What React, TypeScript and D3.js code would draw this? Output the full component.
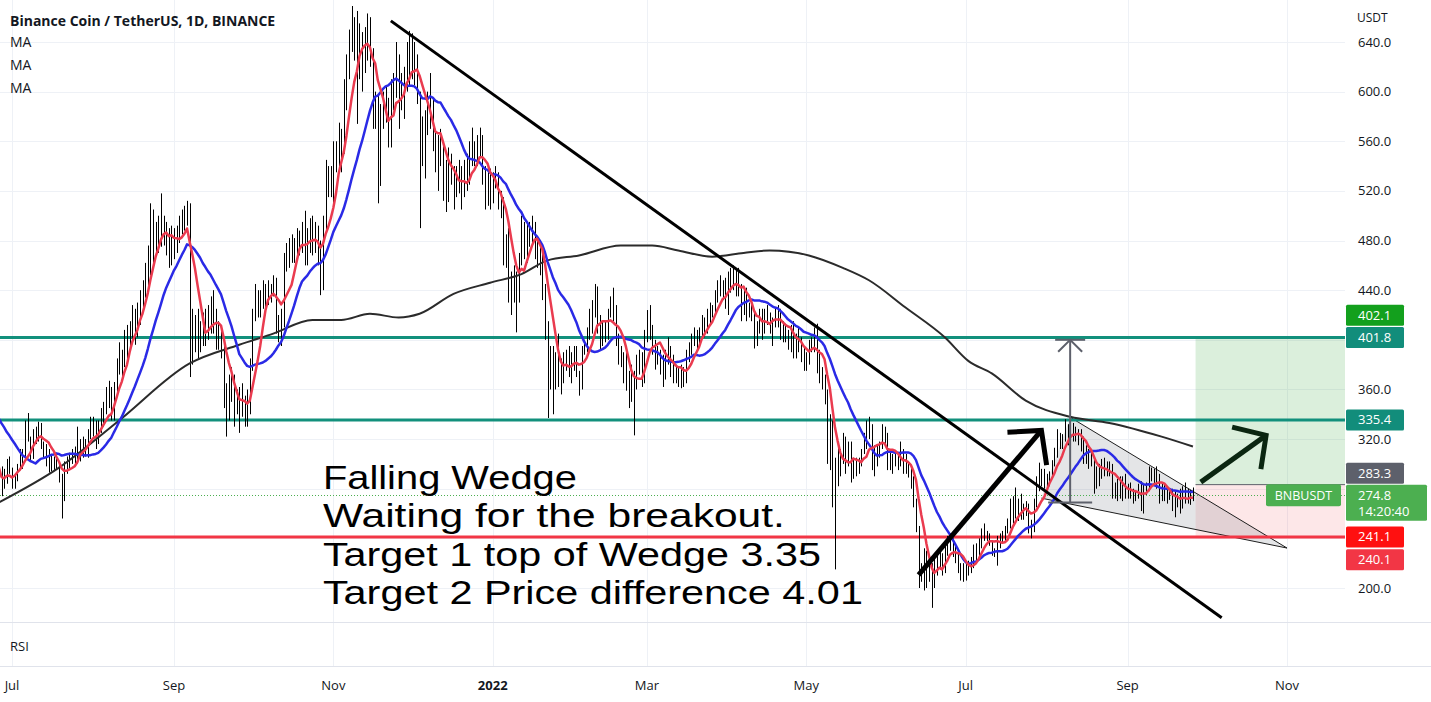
import React from "react";
import * as d3 from "d3";

// ---------------- DATA ----------------
const startDate = "2021-06-06"; // first daily bar (bars left of the pane are clipped)

// daily closes, Jun 6 2021 .. Sep 26 2022 (one line per month)
const closes = [
  392,365,350,372,358,355,350,365,372,368,352,358,340,342,345,292,284,300,298,280,279,293,285,298,301,
  288,289,298,308,308,326,322,311,325,322,332,318,312,312,300,298,300,300,290,275,298,301,305,308,310,312,316,313,315,325,333,
  330,320,330,340,342,351,358,340,362,380,391,381,405,400,410,420,415,425,435,445,455,470,495,480,490,480,495,485,480,475,485,
  475,478,490,495,500,505,410,405,400,395,405,410,415,420,425,415,405,405,395,350,340,360,365,345,355,350,345,335,345,380,
  420,430,425,430,440,440,440,440,445,410,410,415,460,470,470,475,475,480,480,485,470,475,490,480,485,470,450,490,530,530,530,
  545,550,560,555,590,620,640,650,640,620,640,630,640,650,630,580,590,545,580,590,585,565,600,600,615,590,605,610,625,625,
  640,620,600,570,560,575,580,590,560,540,560,560,525,530,540,530,520,530,525,520,530,530,545,560,550,555,560,530,515,525,512,
  530,530,512,505,470,480,440,440,445,440,465,490,470,490,485,490,475,470,460,440,410,380,390,380,375,370,375,385,385,380,380,
  390,375,365,390,395,405,420,425,430,415,400,410,405,420,430,420,400,390,385,370,365,365,355,365,380,380,370,405,
  415,410,395,390,390,380,375,385,390,380,375,370,370,375,370,385,395,400,405,400,405,415,410,420,425,425,435,440,445,440,430,
  450,445,455,450,440,425,435,420,425,420,400,410,420,410,420,420,410,415,420,420,410,405,405,400,410,390,395,400,390,380,
  385,395,400,405,390,375,370,355,310,325,290,280,300,305,320,300,315,290,300,295,300,310,320,325,330,310,300,310,315,330,320,
  300,305,300,305,300,310,300,300,295,285,270,250,205,210,225,205,215,205,220,220,225,215,230,240,238,230,225,218,212,215,
  215,218,220,230,230,235,245,245,242,237,230,228,238,240,240,245,250,265,265,265,268,260,262,265,250,250,270,280,285,290,285,
  288,290,300,310,325,315,320,330,320,330,325,325,320,315,310,305,300,305,290,285,295,300,300,295,295,280,280,278,285,280,278,
  280,275,273,275,280,270,280,280,292,293,290,285,275,280,275,275,276,265,275,270,268,278,275,272,272,274.8,
];

const highs = [
  400,395,368,378,375,362,358,368,378,375,370,365,362,350,348,348,302,310,310,302,290,298,296,304,306,
  297,292,300,312,312,335,341,322,328,330,334,333,318,316,312,308,306,309,302,292,302,306,309,312,314,330,320,322,320,328,338,
  338,335,335,345,350,362,367,362,366,385,398,392,408,412,415,428,425,430,440,448,462,476,510,505,495,500,518,500,495,490,492,
  490,492,500,505,508,512,510,425,420,425,415,422,425,428,435,440,425,415,410,400,365,372,378,372,360,362,365,355,360,385,
  425,445,440,440,448,445,448,445,452,450,420,425,470,478,482,485,482,490,488,495,504,490,498,500,495,492,480,500,545,540,540,
  560,560,575,570,610,630,650,669,660,665,655,648,652,663,660,635,600,598,590,600,605,595,610,615,640,630,615,620,640,649,
  647,640,630,600,580,585,600,615,595,570,565,570,560,545,555,550,540,540,545,540,545,550,560,571,560,565,571,565,540,535,538,
  535,540,535,520,515,485,490,455,460,455,470,500,495,495,495,500,495,480,480,475,445,415,395,395,390,405,385,390,392,395,390,
  395,395,375,395,400,410,425,432,445,443,420,415,415,425,435,442,428,405,395,390,392,375,380,375,388,392,390,408,
  424,428,412,400,395,392,388,392,402,395,388,380,378,380,378,392,398,405,410,408,410,420,418,425,430,428,440,448,452,448,450,
  455,458,460,457,458,445,440,442,430,428,422,415,425,425,425,428,422,418,425,428,425,415,412,408,412,415,405,410,402,395,
  390,400,402,410,413,392,378,372,360,340,335,305,318,312,325,322,318,318,305,305,305,312,325,335,338,332,315,315,318,332,330,
  325,310,308,310,308,318,312,308,302,298,290,272,250,220,232,230,222,220,224,228,232,228,235,242,244,240,235,228,220,220,
  222,222,225,235,236,240,248,252,246,244,238,232,242,244,246,250,256,272,274,281,272,276,268,270,268,255,272,290,301,296,296,
  292,294,303,313,328,325,324,336,332,334,333,330,328,328,322,315,312,310,306,298,300,304,305,302,302,300,285,288,290,290,292,
  284,285,280,278,284,286,283,285,298,297,296,298,292,284,284,280,280,280,278,276,280,282,285,280,279,281,
];

const lows = [
  385,355,330,345,350,345,335,345,360,360,345,350,335,330,320,285,255,278,290,276,270,274,280,284,292,
  280,280,286,295,296,303,318,303,304,316,318,312,305,298,293,294,295,296,285,256,270,292,295,300,300,300,302,305,306,305,320,
  322,312,316,325,330,340,345,335,335,355,372,370,378,385,392,398,396,402,412,426,434,440,452,462,468,470,475,476,468,458,460,
  465,470,478,485,488,492,370,380,390,385,390,395,395,400,405,405,392,392,385,345,322,335,350,330,340,325,338,330,330,340,
  375,415,418,418,425,425,428,430,435,405,398,395,410,455,458,462,462,465,468,470,460,460,470,468,470,460,436,440,488,515,515,
  510,535,540,535,550,585,610,632,625,574,610,600,615,625,620,570,570,510,524,570,575,555,555,585,595,570,585,578,600,605,
  610,605,590,490,540,530,565,570,552,535,520,540,512,503,511,525,505,515,518,505,515,520,525,540,540,540,548,525,505,508,505,
  510,522,505,498,460,458,430,420,430,406,430,460,465,462,475,475,465,458,452,432,400,337,360,340,360,362,356,365,375,370,365,
  375,370,355,360,388,390,400,405,418,405,392,395,398,400,418,415,395,380,378,365,359,345,350,323,360,372,362,365,
  398,400,388,376,380,372,362,368,380,370,365,365,362,361,362,365,382,388,395,392,395,402,402,405,412,418,420,430,435,432,425,
  420,438,440,435,435,415,420,415,418,415,393,395,405,400,405,412,405,395,410,410,400,398,398,392,390,385,385,390,382,375,
  375,380,390,390,373,365,360,348,300,295,265,215,282,290,300,292,298,285,288,290,292,298,308,312,320,295,290,298,305,312,315,
  295,295,292,298,295,298,292,292,289,280,265,245,200,205,198,200,205,184,200,210,215,210,212,226,230,225,220,212,206,205,
  206,210,212,216,222,225,232,238,238,234,226,225,218,232,236,238,244,248,252,256,254,255,255,258,244,240,245,265,278,282,280,
  280,282,288,298,305,312,312,318,315,312,318,318,315,310,300,300,296,298,276,280,282,288,290,290,290,272,272,270,272,270,272,
  272,272,268,270,272,262,260,275,278,286,284,280,268,270,270,268,271,262,257,265,260,264,268,268,267,270,
];

// 200-day moving average
const ma200Dates = [
  "2021-06-26","2021-07-19","2021-08-11","2021-09-07","2021-09-26","2021-10-09","2021-10-24","2021-11-04",
  "2021-11-15","2021-11-26","2021-12-04","2021-12-17","2021-12-31","2022-01-12","2022-01-22","2022-02-03",
  "2022-02-19","2022-03-03","2022-03-13","2022-03-26","2022-04-07","2022-04-17","2022-05-02","2022-05-15",
  "2022-05-25","2022-06-08","2022-06-23","2022-07-02","2022-07-11","2022-07-24","2022-08-10","2022-08-25",
  "2022-09-14","2022-09-26",
];
const ma200Values = [
  269,297,335,381,396,405,416,416,
  421,418,421,437,446,453,464,468,
  476,476,472,467,470,472,468,458,
  448,426,402,383,373,351,338,333,
  322,314,
];

const fastPeriod = 7;
const slowPeriod = 20;

const tickDates = ["2021-07-01","2021-09-01","2021-11-01","2022-01-01","2022-03-01","2022-05-01","2022-07-01","2022-09-01","2022-11-01"];
const tickLabels = ["Jul","Sep","Nov","2022","Mar","May","Jul","Sep","Nov"];
const priceTicks = [200,240,280,320,360,400,440,480,520,560,600,640];

const resistanceLevels = [401.8, 335.4];
const supportLevel = 241.1;
const lastPrice = 274.8;
const countdown = "14:20:40";
const symbol = "BNBUSDT";

// drawings, in (date, price)
const trendLine = [["2021-11-23", 657], ["2022-10-07", 176]];
const wedge = [["2022-08-10", 337.6], ["2022-07-30", 272.4], ["2022-11-01", 232.2]];
const measure = { date: "2022-08-10", from: 269, to: 400 };
const arrowUp1 = [["2022-06-13", 210.5], ["2022-07-30", 327]];
const arrowUp1Head = [["2022-07-17", 325.5], ["2022-07-30", 327], ["2022-08-01", 299]];
const arrowUp2 = [["2022-09-29", 285.3], ["2022-10-24", 323]];
const arrowUp2Head = [["2022-10-11", 329.6], ["2022-10-24", 323], ["2022-10-22", 295.8]];
const position = { start: "2022-09-27", end: "2023-01-31", target: 402.1, entry: 283.3, stop: 240.1 };

const noteAnchor = { date: "2021-10-28", price: 280 };
const noteLines = ["Falling Wedge", "Waiting for the breakout.", "Target 1 top of Wedge 3.35", "Target 2 Price difference 4.01"];
const noteWidths = [254, 462, 498, 540];

// ---------------- LAYOUT ----------------
const W = 1431;
const H = 702;
const PANE_R = 1345;
const PANE_B = 622;
const RSI_B = 666;

const parse = d3.utcParse("%Y-%m-%d");

export default function App() {
  const x = d3.scaleUtc().domain([parse("2021-07-01")!, parse("2022-11-01")!]).range([12, 1287]);
  const y = d3.scaleLinear().domain([200, 640]).range([588, 42]);

  const start = parse(startDate)!;
  const dates = closes.map((_, i) => d3.utcDay.offset(start, i));

  const sma = (n: number) => {
    const out: [number, number][] = [];
    for (let i = n - 1; i < closes.length; i++) {
      const m = d3.mean(closes.slice(i - n + 1, i + 1))!;
      out.push([x(dates[i]), y(m)]);
    }
    return out;
  };
  const line = d3.line<[number, number]>();
  const smooth = d3.line<[number, number]>().curve(d3.curveMonotoneX);
  const pt = (p: any): [number, number] => [x(parse(p[0])!), y(p[1])];

  const fast = sma(fastPeriod);
  const slow = sma(slowPeriod);
  const ma200 = ma200Dates.map((d, i) => [x(parse(d)!), y(ma200Values[i])] as [number, number]);

  const posX0 = x(parse(position.start)!);
  const posX1 = x(parse(position.end)!);
  const mX = x(parse(measure.date)!);
  const mTop = y(measure.to);
  const mBot = y(measure.from);

  const lastY = y(lastPrice);
  const noteX = x(parse(noteAnchor.date)!);
  const noteY = y(noteAnchor.price);

  const axisFont = "'Open Sans', 'Noto Sans', sans-serif";

  const boxLabels = [
    { price: position.target, fill: "#13a01d", dy: -22 },
    { price: resistanceLevels[0], fill: "#128d7b", dy: 0 },
    { price: resistanceLevels[1], fill: "#128d7b", dy: 0 },
    { price: position.entry, fill: "#5d606b", dy: -11.5 },
    { price: supportLevel, fill: "#ff1010", dy: 0 },
    { price: position.stop, fill: "#f23645", dy: 21.5 },
  ];
  // occupied vertical ranges on the price scale (tick labels under them are hidden, as TradingView does)
  const occupied: [number, number][] = boxLabels.map((b) => [y(b.price) + b.dy - 10.5, y(b.price) + b.dy + 10.5]);
  occupied.push([lastY - 10.5, lastY + 25.5]);
  const visibleTicks = priceTicks.filter((p) => {
    const yy = y(p);
    return !occupied.some(([a, b]) => yy + 6 > a && yy - 6 < b);
  });

  return (
    <div style={{ position: "absolute", left: 0, top: 0 }}>
      <svg width={W} height={H} style={{ display: "block", background: "#fff" }}>
        <defs>
          <clipPath id="pane">
            <rect x={0} y={0} width={PANE_R} height={PANE_B} />
          </clipPath>
        </defs>

        {/* grid */}
        {priceTicks.map((p) => (
          <line key={"hg" + p} x1={0} x2={PANE_R} y1={Math.round(y(p)) + 0.5} y2={Math.round(y(p)) + 0.5} stroke="#eef1f6" strokeWidth={1} />
        ))}
        {tickDates.map((d) => {
          const xx = Math.round(x(parse(d)!)) + 0.5;
          return <line key={"vg" + d} x1={xx} x2={xx} y1={0} y2={RSI_B} stroke="#eef1f6" strokeWidth={1} />;
        })}

        <g clipPath="url(#pane)">
          {/* long position tool */}
          <rect x={posX0} y={y(position.target)} width={posX1 - posX0} height={y(position.entry) - y(position.target)} fill="rgba(76,175,80,0.2)" />
          <rect x={posX0} y={y(position.entry)} width={posX1 - posX0} height={y(position.stop) - y(position.entry)} fill="rgba(242,54,69,0.12)" />
          <line x1={posX0} x2={posX1} y1={y(position.entry)} y2={y(position.entry)} stroke="#5d606b" strokeWidth={1} />

          {/* wedge */}
          <path d={line(wedge.map(pt))! + "Z"} fill="rgba(120,123,134,0.2)" stroke="none" />
          <path d={line([pt(wedge[0]), pt(wedge[2])])!} stroke="#1e1e1e" strokeWidth={1} fill="none" />
          <path d={line([pt(wedge[1]), pt(wedge[2])])!} stroke="#1e1e1e" strokeWidth={1} fill="none" />

          {/* last price line */}
          <line x1={0} x2={PANE_R} y1={Math.round(lastY) + 0.5} y2={Math.round(lastY) + 0.5} stroke="#4caf50" strokeWidth={1} strokeDasharray="1 2" />

          {/* horizontal levels */}
          {resistanceLevels.map((p) => (
            <line key={"lv" + p} x1={0} x2={PANE_R} y1={y(p)} y2={y(p)} stroke="#12907c" strokeWidth={3} />
          ))}
          <line x1={0} x2={PANE_R} y1={y(supportLevel)} y2={y(supportLevel)} stroke="#f23645" strokeWidth={3} />

          {/* bars */}
          {dates.map((d, i) => {
            const xx = Math.round(x(d)) + 0.5;
            return <line key={"b" + i} x1={xx} x2={xx} y1={y(highs[i])} y2={y(lows[i])} stroke="#000" strokeWidth={1} />;
          })}

          {/* moving averages */}
          <path d={smooth(ma200)!} fill="none" stroke="#2b2b2b" strokeWidth={2} />
          <path d={line(slow)!} fill="none" stroke="#2a2ae6" strokeWidth={2.5} strokeLinejoin="round" />
          <path d={line(fast)!} fill="none" stroke="#ea3b4f" strokeWidth={2.5} strokeLinejoin="round" />

          {/* trend line */}
          <path d={line(trendLine.map(pt))!} stroke="#000" strokeWidth={3} fill="none" />

          {/* measure */}
          <g stroke="#5d606b" strokeWidth={2} fill="none">
            <line x1={mX} x2={mX} y1={mTop} y2={mBot} />
            <line x1={mX - 15} x2={mX + 15} y1={mTop} y2={mTop} />
            <line x1={mX - 22} x2={mX + 22} y1={mBot} y2={mBot} />
            <path d={`M${mX - 12},${mTop + 12}L${mX},${mTop}L${mX + 12},${mTop + 12}`} />
          </g>

          {/* arrows */}
          <path d={line(arrowUp1.map(pt))!} stroke="#000" strokeWidth={5} fill="none" />
          <path d={line(arrowUp1Head.map(pt))!} stroke="#000" strokeWidth={5} fill="none" strokeLinejoin="miter" />
          <path d={line(arrowUp2.map(pt))!} stroke="#0b2611" strokeWidth={5} fill="none" />
          <path d={line(arrowUp2Head.map(pt))!} stroke="#0b2611" strokeWidth={5} fill="none" strokeLinejoin="miter" />

          {/* note */}
          {noteLines.map((t, i) => (
            <text key={"n" + i} x={noteX} y={noteY + i * 38.5} fontFamily="'Liberation Sans', Arial, sans-serif" fontSize={34} fill="#000"
              textLength={noteWidths[i]} lengthAdjust="spacingAndGlyphs">{t}</text>
          ))}

          {/* symbol label on chart */}
          <rect x={1266} y={lastY - 11} width={75} height={22} rx={2} fill="#4caf50" />
          <text x={1303.5} y={lastY + 4.5} textAnchor="middle" fontFamily={axisFont} fontSize={12.5} fill="#fff">{symbol}</text>
        </g>

        {/* pane separators */}
        <line x1={0} x2={W} y1={PANE_B + 0.5} y2={PANE_B + 0.5} stroke="#e0e3eb" strokeWidth={1} />
        <line x1={0} x2={W} y1={RSI_B + 0.5} y2={RSI_B + 0.5} stroke="#e0e3eb" strokeWidth={1} />

        {/* price axis */}
        <text x={1357} y={22} fontFamily={axisFont} fontSize={12} fill="#131722">USDT</text>
        {visibleTicks.map((p) => (
          <text key={"pt" + p} x={1358} y={y(p) + 4.5} fontFamily={axisFont} fontSize={13} fill="#131722">{p.toFixed(1)}</text>
        ))}
        {boxLabels.map((b, i) => {
          const cy = y(b.price) + b.dy;
          return (
            <g key={"bl" + i}>
              <rect x={1346} y={cy - 10.5} width={58} height={21} fill={b.fill} rx={1.5} />
              <text x={1358} y={cy + 4.5} fontFamily={axisFont} fontSize={13} fill="#fff">{b.price.toFixed(1)}</text>
            </g>
          );
        })}
        <rect x={1346} y={lastY - 10.5} width={81} height={36} fill="#4caf50" rx={1.5} />
        <text x={1358} y={lastY + 4.5} fontFamily={axisFont} fontSize={13} fill="#fff">{lastPrice.toFixed(1)}</text>
        <text x={1358} y={lastY + 21} fontFamily={axisFont} fontSize={13} fill="#fff">{countdown}</text>

        {/* time axis */}
        {tickDates.map((d, i) => (
          <text key={"tl" + i} x={x(parse(d)!)} y={690} textAnchor="middle" fontFamily={axisFont} fontSize={13}
            fontWeight={tickLabels[i] === "2022" ? 700 : 400} fill="#131722">{tickLabels[i]}</text>
        ))}

        {/* legends */}
        <text x={10} y={26} fontFamily={axisFont} fontSize={14} fontWeight={700} fill="#131722">Binance Coin / TetherUS, 1D, BINANCE</text>
        {[0, 1, 2].map((i) => (
          <text key={"ma" + i} x={10} y={47 + i * 23} fontFamily={axisFont} fontSize={14} fill="#131722">MA</text>
        ))}
        <text x={10} y={651} fontFamily={axisFont} fontSize={13} fill="#131722">RSI</text>
      </svg>
    </div>
  );
}
